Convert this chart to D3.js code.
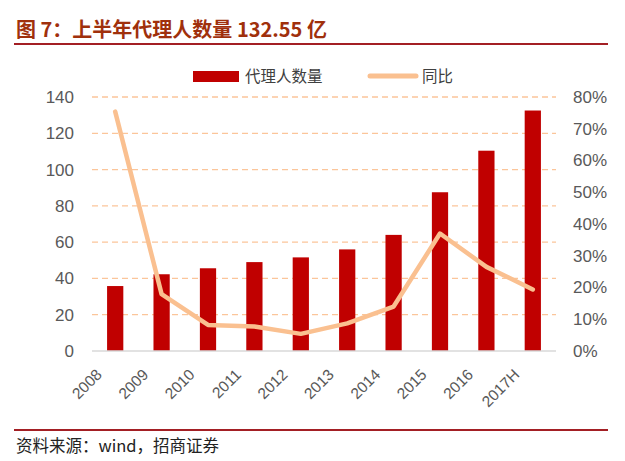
<!DOCTYPE html>
<html>
<head>
<meta charset="utf-8">
<script src="https://cdn.jsdelivr.net/npm/d3@7"></script>
<style>
  body { margin: 0; background: #fff; }
  svg { display: block; font-family: "Liberation Sans", Arial, sans-serif; }
</style>
</head>
<body>
<div id="chart"></div>
<script>
// data
const years = ["2008", "2009", "2010", "2011", "2012", "2013", "2014", "2015", "2016", "2017H"];
const agents = [35.8, 42.3, 45.6, 49.0, 51.6, 56.0, 64.0, 87.5, 110.4, 132.55];
const yoy = [0.754, 0.179, 0.082, 0.077, 0.054, 0.087, 0.140, 0.370, 0.265, 0.194];
const leftTicks = [0, 20, 40, 60, 80, 100, 120, 140];
const rightTicks = [0, 0.1, 0.2, 0.3, 0.4, 0.5, 0.6, 0.7, 0.8];

const width = 625, height = 461;
const plot = { left: 92, right: 556, top: 97, bottom: 351 };

const svg = d3.select("#chart").append("svg")
    .attr("width", width)
    .attr("height", height);

// title and rules
svg.append("text")
    .attr("x", 16).attr("y", 37)
    .attr("fill", "#A0300C")
    .style("font-family", "'Noto Sans CJK SC', sans-serif")
    .style("font-weight", "bold")
    .style("font-size", "20px")
    .text("图 7：上半年代理人数量 132.55 亿");

svg.append("line")
    .attr("x1", 14).attr("x2", 608).attr("y1", 44).attr("y2", 44)
    .attr("stroke", "#A31F24").attr("stroke-width", 2);

svg.append("line")
    .attr("x1", 14).attr("x2", 608).attr("y1", 430).attr("y2", 430)
    .attr("stroke", "#A31F24").attr("stroke-width", 2);

svg.append("text")
    .attr("x", 16).attr("y", 452)
    .attr("fill", "#222")
    .style("font-family", "'Noto Sans CJK SC', sans-serif")
    .style("font-size", "16.5px")
    .text("资料来源：wind，招商证券");

// scales
const x = d3.scaleBand().domain(years).range([plot.left, plot.right]).paddingInner(0.65).paddingOuter(0.325);
const yL = d3.scaleLinear().domain([0, 140]).range([plot.bottom, plot.top]);
const yR = d3.scaleLinear().domain([0, 0.8]).range([plot.bottom, plot.top]);

// gridlines
svg.append("g")
    .selectAll("line")
    .data(leftTicks.filter(d => d > 0))
    .enter().append("line")
    .attr("x1", plot.left).attr("x2", plot.right)
    .attr("y1", d => yL(d)).attr("y2", d => yL(d))
    .attr("stroke", "#FBC59A")
    .attr("stroke-width", 1.3)
    .attr("stroke-dasharray", "6,4");

// left axis
const axL = svg.append("g")
    .attr("transform", `translate(${plot.left - 18},0)`)
    .call(d3.axisLeft(yL).tickValues(leftTicks).tickSize(0).tickPadding(0));
axL.select(".domain").remove();
axL.selectAll("text").attr("fill", "#595959").style("font-size", "17px");

// right axis
const axR = svg.append("g")
    .attr("transform", `translate(${plot.right + 17},0)`)
    .call(d3.axisRight(yR).tickValues(rightTicks).tickFormat(d3.format(".0%")).tickSize(0).tickPadding(0));
axR.select(".domain").remove();
axR.selectAll("text").attr("fill", "#595959").style("font-size", "17px");

// bars
svg.append("g")
    .selectAll("rect")
    .data(agents)
    .enter().append("rect")
    .attr("x", (d, i) => x(years[i]))
    .attr("y", d => yL(d))
    .attr("width", x.bandwidth())
    .attr("height", d => yL(0) - yL(d))
    .attr("fill", "#C00000");

// baseline
svg.append("line")
    .attr("x1", plot.left).attr("x2", plot.right)
    .attr("y1", plot.bottom).attr("y2", plot.bottom)
    .attr("stroke", "#D9D9D9").attr("stroke-width", 1.3);

// yoy line
const line = d3.line()
    .x((d, i) => x(years[i]) + x.bandwidth() / 2)
    .y(d => yR(d));

svg.append("path")
    .datum(yoy)
    .attr("d", line)
    .attr("fill", "none")
    .attr("stroke", "#FAC090")
    .attr("stroke-width", 4.5)
    .attr("stroke-linejoin", "round")
    .attr("stroke-linecap", "round");

// x labels
svg.append("g")
    .selectAll("text")
    .data(years)
    .enter().append("text")
    .attr("transform", d => `translate(${x(d) + x.bandwidth() / 2 - 20},${plot.bottom + 17}) rotate(-45)`)
    .attr("text-anchor", "end")
    .attr("dy", "0.7em")
    .attr("fill", "#595959")
    .style("font-size", "15.5px")
    .text(d => d);

// legend
const legend = svg.append("g").style("font-family", "'Noto Sans CJK SC', sans-serif");
legend.append("rect")
    .attr("x", 193).attr("y", 71).attr("width", 46).attr("height", 11)
    .attr("fill", "#C00000");
legend.append("text")
    .attr("x", 245).attr("y", 82)
    .attr("fill", "#404040").style("font-size", "15.5px")
    .text("代理人数量");
legend.append("line")
    .attr("x1", 370).attr("x2", 416).attr("y1", 76).attr("y2", 76)
    .attr("stroke", "#FAC090").attr("stroke-width", 5).attr("stroke-linecap", "round");
legend.append("text")
    .attr("x", 422).attr("y", 82)
    .attr("fill", "#404040").style("font-size", "15.5px")
    .text("同比");
</script>
</body>
</html>
